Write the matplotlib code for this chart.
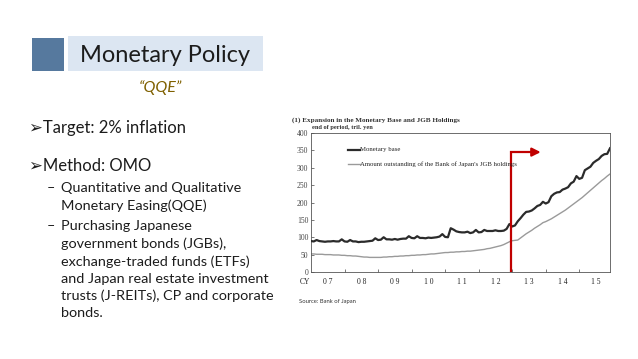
import numpy as np
import matplotlib
matplotlib.use("Agg")
import matplotlib.pyplot as plt
from matplotlib.patches import Rectangle
from matplotlib.lines import Line2D

# ---- data (trillion yen, end of month) ----
years = [2007, 2008, 2009, 2010, 2011, 2012, 2013, 2014, 2015]
monetary_base = [
    89, 88, 92, 89, 88, 87, 88, 88, 89, 88, 88, 94,
    88, 87, 92, 88, 88, 86, 87, 87, 88, 89, 90, 97,
    92, 93, 100, 94, 94, 93, 95, 93, 95, 96, 96, 103,
    98, 97, 103, 98, 98, 97, 99, 98, 99, 100, 102, 109,
    101, 100, 126, 122, 117, 115, 114, 114, 116, 112, 114, 121,
    114, 115, 121, 118, 118, 118, 120, 118, 118, 119, 124, 138,
    131, 134, 146, 155, 165, 173, 174, 177, 183, 190, 193, 202,
    197, 201, 218, 225, 229, 230, 237, 240, 244, 255, 260, 276,
    268, 271, 293, 298, 303, 314, 320, 325, 334, 339, 340, 356,
]
jgb_holdings = [
    52, 52, 51, 51, 51, 50, 50, 50, 49, 49, 49, 48,
    48, 47, 47, 46, 46, 45, 44, 43, 43, 42, 42, 42,
    42, 42, 43, 43, 44, 44, 45, 45, 46, 46, 47, 47,
    48, 48, 49, 49, 50, 50, 51, 52, 52, 53, 54, 55,
    56, 56, 57, 57, 58, 58, 59, 59, 60, 60, 61, 62,
    63, 64, 65, 67, 68, 70, 72, 74, 76, 79, 83, 87,
    90, 91, 92, 98, 104, 110, 115, 120, 126, 131, 136, 142,
    145, 149, 153, 158, 163, 168, 173, 178, 184, 190, 196, 202,
    208, 214, 221, 228, 235, 242, 249, 256, 263, 269, 276, 282,
]
year_labels = ["0 7", "0 8", "0 9", "1 0", "1 1", "1 2", "1 3", "1 4", "1 5"]
y_ticks = [0, 50, 100, 150, 200, 250, 300, 350, 400]
qqe_start = 2012.96
qqe_arrow_top = 345
qqe_arrow_end = 2013.85

W, H = 638, 359
fig = plt.figure(figsize=(W / 100, H / 100), dpi=100)
fig.patch.set_facecolor("white")

def fx(x):
    return x / W

def fy(y):
    return 1 - y / H

sans = ["Lato", "DejaVu Sans"]
serif = ["Liberation Serif", "DejaVu Serif"]
txtc = "#1c1c1c"

# ---- slide title ----
fig.add_artist(Rectangle((fx(32), fy(71)), fx(64) - fx(32), fy(38) - fy(71),
                         transform=fig.transFigure, facecolor="#56799E", edgecolor="none"))
fig.add_artist(Rectangle((fx(68), fy(71)), fx(263) - fx(68), fy(36) - fy(71),
                         transform=fig.transFigure, facecolor="#DCE6F2", edgecolor="none"))
fig.text(fx(165), fy(55), "Monetary Policy", family=sans, fontsize=17,
         color=txtc, ha="center", va="center")
fig.text(fx(160), fy(88), "\u201cQQE\u201d", family=sans, fontsize=11.5,
         style="italic", color="#7F6000", ha="center", va="center")

# ---- bullets ----
fig.text(fx(29), fy(128), "\u27a2Target: 2% inflation", family=sans, fontsize=12,
         color=txtc, ha="left", va="center")
fig.text(fx(29), fy(166), "\u27a2Method: OMO", family=sans, fontsize=12,
         color=txtc, ha="left", va="center")
sub_lines = [
    (188, "Quantitative and Qualitative", True),
    (206, "Monetary Easing(QQE)", False),
    (226, "Purchasing Japanese", True),
    (244, "government bonds (JGBs),", False),
    (262, "exchange-traded funds (ETFs)", False),
    (279, "and Japan real estate investment", False),
    (296, "trusts (J-REITs), CP and corporate", False),
    (313, "bonds.", False),
]
for y, s, dash in sub_lines:
    if dash:
        fig.text(fx(47), fy(y), "\u2013", family=sans, fontsize=10.4,
                 color=txtc, ha="left", va="center")
    fig.text(fx(61), fy(y), s, family=sans, fontsize=10.4,
             color=txtc, ha="left", va="center")

# ---- chart ----
ax = fig.add_axes([fx(311), fy(272), fx(610) - fx(311), fy(133) - fy(272)])
n = len(monetary_base)
x = np.array([years[0] + i / 12 for i in range(n)])
ax.plot(x, jgb_holdings, color="#9a9a9a", lw=1.0, zorder=2)
ax.plot(x, monetary_base, color="#2b2b2b", lw=1.6, zorder=3)
ax.set_xlim(years[0], x[-1])
ax.set_ylim(0, 400)
ax.set_yticks(y_ticks)
ax.set_yticklabels([str(v) for v in y_ticks], family=serif, fontsize=5.5, color="#222")
ax.set_xticks([yy for yy in years[1:]])
ax.set_xticklabels([])
for yy, lab in zip(years, year_labels):
    ax.text(yy + 0.5, -0.075, lab, transform=ax.get_xaxis_transform(),
            family=serif, fontsize=5.5, ha="center", va="center", color="#222")
ax.text(-0.02, -0.075, "CY", transform=ax.transAxes, family=serif, fontsize=5.5,
        ha="center", va="center", color="#222")
ax.tick_params(direction="in", length=2, width=0.5, pad=2, colors="#444")
for sp in ax.spines.values():
    sp.set_linewidth(0.6)
    sp.set_color("#555")

# red arrow
ax.plot([qqe_start, qqe_start, qqe_arrow_end - 0.15], [0, qqe_arrow_top, qqe_arrow_top],
        color="#C00000", lw=1.6, zorder=4, solid_joinstyle="miter")
ax.annotate("", xy=(qqe_arrow_end, qqe_arrow_top), xytext=(qqe_arrow_end - 0.2, qqe_arrow_top),
            arrowprops=dict(arrowstyle="-|>,head_length=0.5,head_width=0.25",
                            color="#C00000", lw=1.6, shrinkA=0, shrinkB=0), zorder=4)

# legend (manual)
fig.add_artist(Line2D([fx(348), fx(360)], [fy(150), fy(150)], color="#2b2b2b", lw=1.6))
fig.text(fx(360), fy(150), "Monetary base", family=serif, fontsize=4.9,
         color="#222", ha="left", va="center")
fig.add_artist(Line2D([fx(348), fx(360)], [fy(164), fy(164)], color="#9a9a9a", lw=1.0))
fig.text(fx(360), fy(164), "Amount outstanding of the Bank of Japan's JGB holdings",
         family=serif, fontsize=4.9, color="#222", ha="left", va="center")

# chart titles and source
fig.text(fx(292), fy(120), "(1) Expansion in the Monetary Base and JGB Holdings",
         family=serif, fontsize=5.1, weight="bold", color="#333", ha="left", va="center")
fig.text(fx(312), fy(128), "end of period, tril. yen", family=serif, fontsize=4.6,
         weight="bold", color="#333", ha="left", va="center")
fig.text(fx(299), fy(302), "Source: Bank of Japan", family=sans, fontsize=4.2,
         color="#333", ha="left", va="center")

fig.savefig("out.png", dpi=100, facecolor="white")
